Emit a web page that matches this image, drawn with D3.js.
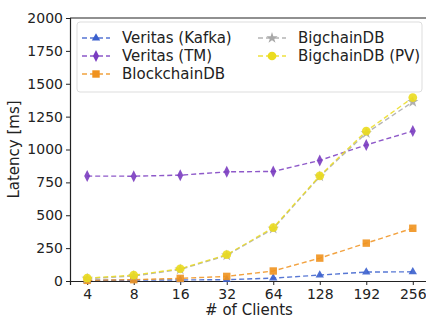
<!DOCTYPE html>
<html>
<head>
<meta charset="utf-8">
<script src="https://cdn.jsdelivr.net/npm/d3@7"></script>
<style>
body { margin: 0; background: #fff; }
text { font-family: "DejaVu Sans", sans-serif; }
</style>
</head>
<body>
<svg width="426" height="320"></svg>
<script>
var clients = ["4", "8", "16", "32", "64", "128", "192", "256"];
var yTicks = [0, 250, 500, 750, 1000, 1250, 1500, 1750, 2000];

var veritasKafka = [5, 6, 8, 10, 22, 45, 68, 70];
var veritasTM = [798, 797, 805, 830, 833, 917, 1035, 1140];
var blockchainDB = [5, 10, 20, 35, 76, 174, 288, 401];
var bigchainDB = [18, 38, 88, 195, 398, 795, 1125, 1362];
var bigchainPV = [22, 44, 93, 200, 405, 800, 1140, 1395];

var series = [
    {name: "Veritas (Kafka)", values: veritasKafka, color: "#3a5fcd", marker: "triangle"},
    {name: "Veritas (TM)", values: veritasTM, color: "#7a3cc0", marker: "diamond"},
    {name: "BlockchainDB", values: blockchainDB, color: "#f0921e", marker: "square"},
    {name: "BigchainDB", values: bigchainDB, color: "#a8a8a8", marker: "star"},
    {name: "BigchainDB (PV)", values: bigchainPV, color: "#ebdc1e", marker: "circle"}
];

var svg = d3.select("svg"),
    margin = {top: 18, right: -4, bottom: 39, left: 70},
    width = +svg.attr("width") - margin.left - margin.right,
    height = +svg.attr("height") - margin.top - margin.bottom;

var g = svg.append("g").attr("transform", "translate(" + margin.left + "," + margin.top + ")");

var x = d3.scalePoint().domain(clients).range([0, width]).padding(0.37);
var y = d3.scaleLinear().domain([0, 2000]).range([height, 0]);

function markerPath(type) {
    if (type === "triangle") return d3.symbol().type(d3.symbolTriangle).size(30)();
    if (type === "diamond") return "M0,-6L3,0L0,6L-3,0Z";
    if (type === "square") return d3.symbol().type(d3.symbolSquare).size(55)();
    if (type === "star") return d3.symbol().type(d3.symbolStar).size(40)();
    return d3.symbol().type(d3.symbolCircle).size(60)();
}

// axes
var xAxis = g.append("g")
    .attr("transform", "translate(0," + height + ")")
    .call(d3.axisBottom(x).tickSize(4).tickPadding(4));
var yAxis = g.append("g")
    .call(d3.axisLeft(y).tickValues(yTicks).tickFormat(d3.format("d")).tickSize(4).tickPadding(3));

[xAxis, yAxis].forEach(function (a) {
    a.selectAll("text").style("font-size", "14px").attr("fill", "#222");
    a.selectAll("line").attr("stroke", "#222");
    a.select(".domain").attr("stroke", "#222").attr("stroke-width", 1.2);
});

// top spine
g.append("line")
    .attr("x1", 0).attr("x2", width)
    .attr("y1", 0).attr("y2", 0)
    .attr("stroke", "#222").attr("stroke-width", 1.2);

var line = d3.line()
    .x(function (d, i) { return x(clients[i]); })
    .y(function (d) { return y(d); });

series.forEach(function (s) {
    g.append("path")
        .datum(s.values)
        .attr("d", line)
        .attr("fill", "none")
        .attr("stroke", s.color)
        .attr("stroke-width", 1.4)
        .attr("stroke-dasharray", "5,3")
        .attr("opacity", 0.85);
    g.selectAll(null)
        .data(s.values)
        .enter()
        .append("path")
        .attr("d", markerPath(s.marker))
        .attr("transform", function (d, i) { return "translate(" + x(clients[i]) + "," + y(d) + ")"; })
        .attr("fill", s.color)
        .attr("opacity", 0.9);
});

// legend
var legend = g.append("g").attr("transform", "translate(7,4)");
legend.append("rect")
    .attr("width", 345).attr("height", 70)
    .attr("rx", 3)
    .attr("fill", "#fff").attr("fill-opacity", 0.85)
    .attr("stroke", "#ddd");

series.forEach(function (s, i) {
    var col = i < 3 ? 0 : 1, row = i < 3 ? i : i - 3;
    var item = legend.append("g")
        .attr("transform", "translate(" + (5 + col * 176) + "," + (16 + row * 18) + ")");
    item.append("line")
        .attr("x1", 0).attr("x2", 28)
        .attr("stroke", s.color).attr("stroke-width", 1.4)
        .attr("stroke-dasharray", "5,3").attr("opacity", 0.85);
    item.append("path")
        .attr("d", markerPath(s.marker))
        .attr("transform", "translate(14,0)")
        .attr("fill", s.color);
    item.append("text")
        .attr("x", 40).attr("y", 5)
        .style("font-size", "15px")
        .attr("fill", "#222")
        .text(s.name);
});

// axis labels
svg.append("text")
    .attr("x", 249)
    .attr("y", 315)
    .attr("text-anchor", "middle")
    .style("font-size", "15px")
    .attr("fill", "#222")
    .text("# of Clients");

svg.append("text")
    .attr("transform", "translate(19," + (margin.top + height / 2) + ") rotate(-90)")
    .attr("text-anchor", "middle")
    .style("font-size", "15px")
    .attr("fill", "#222")
    .text("Latency [ms]");
</script>
</body>
</html>
